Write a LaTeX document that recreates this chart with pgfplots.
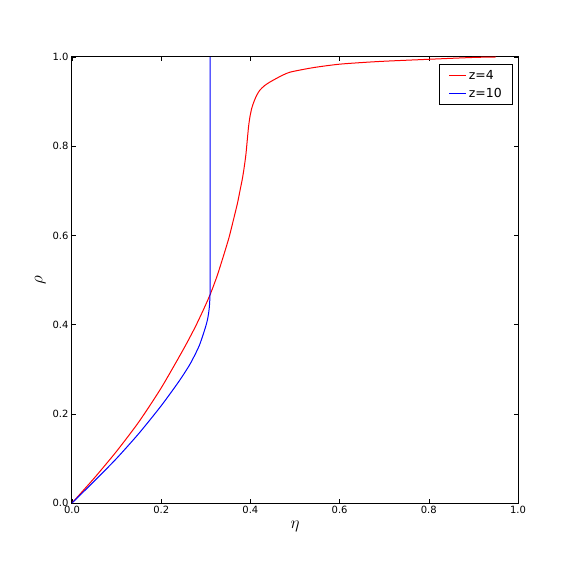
\documentclass[border=0pt]{standalone}
\usepackage{fontspec}
\setmainfont{DejaVu Sans}
\usepackage{pgfplots}
\pgfplotsset{compat=1.18}
\begin{document}
\begin{tikzpicture}
\begin{axis}[
  name=ax,
  width=446bp, height=446bp, scale only axis,
  xmin=0, xmax=1, ymin=0, ymax=1,
  xtick={0,0.2,0.4,0.6,0.8,1.0},
  ytick={0,0.2,0.4,0.6,0.8,1.0},
  tick align=inside,
  major tick length=4bp,
  tick style={black, line width=0.5bp},
  axis line style={black, line width=1bp},
  ticklabel style={font=\fontsize{10}{12}\selectfont},
  /pgf/number format/assume math mode=true,
  xticklabel={\pgfmathprintnumber[fixed,fixed zerofill,precision=1]{\tick}},
  yticklabel={\pgfmathprintnumber[fixed,fixed zerofill,precision=1]{\tick}},
  xlabel={$\eta$}, ylabel={$\rho$},
  label style={font=\fontsize{16}{18}\selectfont},
  legend style={at={(rel axis cs:0.989,0.984)}, anchor=north east,
    line width=0.8bp, font=\fontsize{12.5}{15}\selectfont,
    row sep=3bp, inner xsep=9bp, inner ysep=4bp},
  legend cell align=left,
  legend image post style={line width=1bp},
]
\addplot[red, line width=1bp, smooth, tension=0.4] coordinates {
(0,0) (0.05,0.056) (0.10,0.116) (0.15,0.182) (0.20,0.258) (0.25,0.345)
(0.276,0.394) (0.295,0.434) (0.310,0.468) (0.325,0.508)
(0.339,0.552) (0.352,0.595) (0.362,0.635) (0.371,0.672) (0.377,0.702)
(0.382,0.727) (0.386,0.752) (0.390,0.782) (0.393,0.814) (0.396,0.845)
(0.399,0.866) (0.403,0.885) (0.408,0.900) (0.414,0.914) (0.4215,0.926)
(0.432,0.936) (0.444,0.944) (0.466,0.956) (0.489,0.966) (0.54,0.976)
(0.601,0.984) (0.69,0.990) (0.803,0.995) (0.90,0.999) (0.95,1.0)
};
\addlegendentry{z=4}
\addplot[blue, line width=1bp, smooth, tension=0.4] coordinates {
(0,0) (0.05,0.049) (0.10,0.100) (0.15,0.156) (0.20,0.218) (0.24,0.273)
(0.265,0.312) (0.285,0.352) (0.298,0.390) (0.304,0.412)
(0.3075,0.435) (0.3092,0.460) (0.3098,0.50) (0.3098,0.75) (0.3098,1.0)
};
\addlegendentry{z=10}
\end{axis}
\path ([shift={(-72bp,-73bp)}]ax.south west) rectangle ([shift={(58bp,57bp)}]ax.north east);
\end{tikzpicture}
\end{document}
